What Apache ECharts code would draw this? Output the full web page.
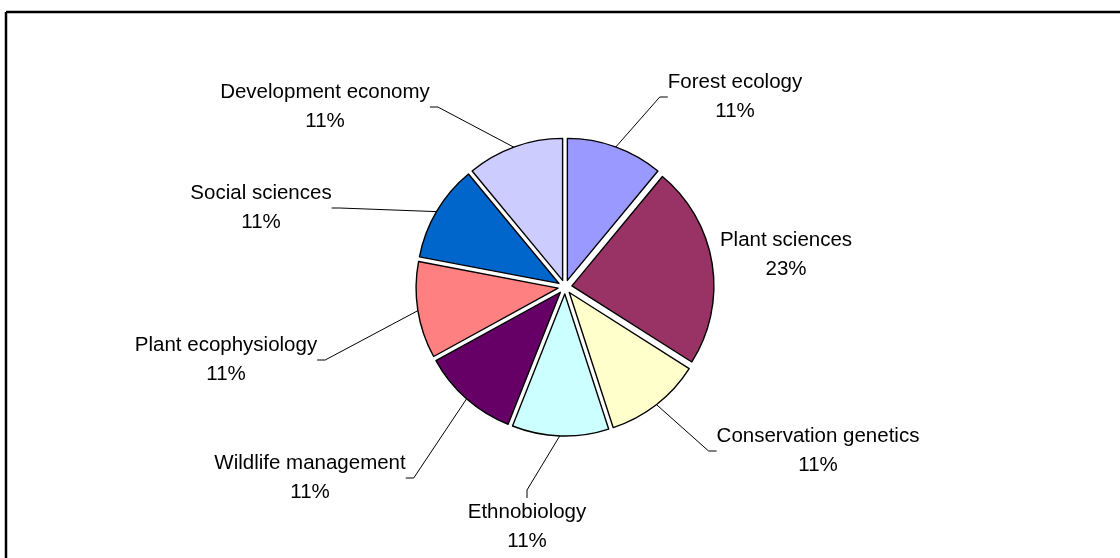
<!DOCTYPE html>
<html>
<head>
<meta charset="utf-8">
<script src="https://cdn.jsdelivr.net/npm/echarts@6/dist/echarts.min.js"></script>
<style>
html,body{margin:0;padding:0;background:#fff;}
#chart{width:1120px;height:558px;}
</style>
</head>
<body>
<div id="chart"></div>
<script>
// ---- data ----
const categories = ['Forest ecology', 'Plant sciences', 'Conservation genetics', 'Ethnobiology',
  'Wildlife management', 'Plant ecophysiology', 'Social sciences', 'Development economy'];
const shares = [11, 23, 11, 11, 11, 11, 11, 11];

// ---- styling / layout (not data) ----
const colors = ['#9999FF', '#993366', '#FFFFCC', '#CCFFFF', '#660066', '#FF8080', '#0066CC', '#CCCCFF'];
const labelCenters = [[735, 97], [786, 255], [818, 451], [527, 527], [310, 478], [226, 360], [261, 208], [325, 107]];
const showLeader = [true, false, true, true, true, true, true, true];

const chart = echarts.init(document.getElementById('chart'), null, {renderer: 'canvas'});

const sliceData = categories.map((name, i) => ({
  name: name,
  value: shares[i],
  selected: true,
  itemStyle: {color: colors[i]}
}));

const labelData = categories.map((name, i) => ({
  name: name,
  value: shares[i],
  labelLine: {show: showLeader[i]}
}));

chart.setOption({
  backgroundColor: '#ffffff',
  animation: false,
  graphic: [
    {type: 'line', shape: {x1: 6, y1: 12, x2: 1120, y2: 12}, style: {stroke: '#000', lineWidth: 2.5}},
    {type: 'line', shape: {x1: 6, y1: 12, x2: 6, y2: 558}, style: {stroke: '#000', lineWidth: 2.5}}
  ],
  series: [{
    type: 'pie',
    center: [565, 287],
    radius: [0, 142],
    startAngle: 90,
    clockwise: true,
    selectedMode: 'multiple',
    selectedOffset: 7,
    silent: true,
    emphasis: {disabled: true},
    itemStyle: {borderColor: '#000', borderWidth: 1.4},
    label: {show: false},
    labelLine: {show: false},
    data: sliceData
  }, {
    type: 'pie',
    center: [565, 287],
    radius: [0, 148],
    startAngle: 90,
    clockwise: true,
    silent: true,
    avoidLabelOverlap: false,
    emphasis: {disabled: true},
    itemStyle: {color: 'rgba(0,0,0,0)', borderWidth: 0},
    label: {
      show: true,
      position: 'outside',
      formatter: p => p.name + '\n' + p.value + '%',
      fontFamily: 'Liberation Sans, Arial, sans-serif',
      fontSize: 20.5,
      lineHeight: 29,
      color: '#000',
      align: 'center'
    },
    labelLine: {show: true, length: 15, length2: 8, lineStyle: {color: '#000', width: 1}},
    labelLayout: function (params) {
      const c = labelCenters[params.dataIndex];
      return {x: c[0], y: c[1], align: 'center', verticalAlign: 'middle'};
    },
    data: labelData
  }]
});
</script>
</body>
</html>
